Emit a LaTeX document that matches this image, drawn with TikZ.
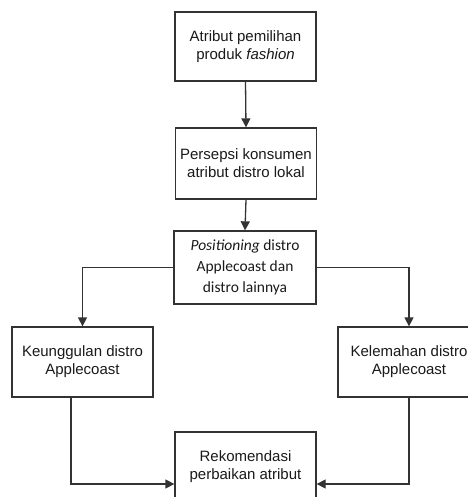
\documentclass[tikz,border=0pt]{standalone}
\usepackage{fontspec}
\setmainfont{Liberation Sans}
\newfontfamily\calib{Carlito}
\usetikzlibrary{arrows.meta}
\definecolor{ln}{HTML}{333333}
\definecolor{tx}{HTML}{1A1A1A}
\tikzset{
  box/.style={draw=ln, line width=1.3pt, minimum width=141pt, minimum height=70pt,
    align=center, text=tx, inner sep=2pt, font=\fontsize{15}{18}\selectfont},
  arr/.style={draw=ln, line width=1.3pt, -{Triangle[length=9pt,width=9pt]}}
}
\begin{document}
\begin{tikzpicture}[x=1pt,y=-1pt]
\useasboundingbox (0,0) rectangle (467,497);
\fill[white] (0,0) rectangle (467,497);
\node[box, minimum height=69pt] (b1) at (245.5,46.5) {Atribut pemilihan\\produk \textit{fashion}};
\node[box, minimum height=71pt] (b2) at (246,163.5) {Persepsi konsumen\\atribut distro lokal};
\node[box, minimum height=73pt, minimum width=142pt, font=\calib\fontsize{15.5}{21}\selectfont] (b3) at (245,267.5) {\textit{Positioning} distro\\Applecoast dan\\distro lainnya};
\node[box] (b4) at (82.5,362) {Keunggulan distro\\Applecoast};
\node[box, minimum width=142pt] (b5) at (409,362) {Kelemahan distro\\Applecoast};
\node[box] (b6) at (245.5,467) {Rekomendasi\\perbaikan atribut};
\draw[arr] (b1.south) -- (b2.north);
\draw[arr] (b2.south) -- (b3.north);
\draw[arr] (b3.west) -| (b4.north);
\draw[arr] (b3.east) -| (b5.north);
\draw[arr] ([xshift=-11.5pt]b4.south) |- ([yshift=-17pt]b6.west);
\draw[arr] (b5.south) |- ([yshift=-17pt]b6.east);
\end{tikzpicture}
\end{document}
